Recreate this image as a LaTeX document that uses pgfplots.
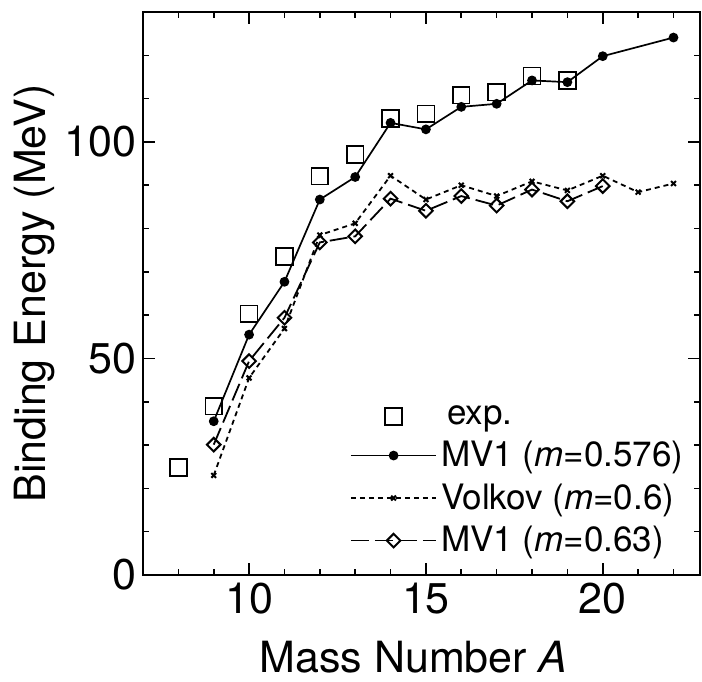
\documentclass[border=0pt]{standalone}
\usepackage{fontspec}
\setmainfont{TeX Gyre Heros}
\usepackage{pgfplots}
\pgfplotsset{compat=1.18}

\begin{document}
\begin{tikzpicture}
\begin{axis}[
    name=ax,
    scale only axis,
    width=278.5pt, height=281.5pt,
    xmin=7, xmax=22.75, ymin=0, ymax=130,
    xtick={10,15,20}, minor xtick={8,...,22},
    ytick={0,50,100}, minor ytick={10,20,...,120},
    tick align=inside,
    major tick length=6pt, minor tick length=3pt,
    axis line style={line width=1pt},
    every tick/.style={line width=0.8pt, black},
    tick label style={font=\fontsize{21.5}{26}\selectfont, inner sep=0pt},
    xticklabel style={yshift=-4pt},
    yticklabel style={xshift=-3pt},
    label style={font=\fontsize{21.5}{26}\selectfont, inner sep=0pt},
    /pgf/number format/assume math mode=true,
    xlabel={Mass Number \textit{A}},
    xlabel style={at={([xshift=-4pt,yshift=-48.5pt]axis description cs:0.5,0)}, anchor=base},
    ylabel={Binding Energy (MeV)},
    ylabel style={at={([xshift=-44pt]axis description cs:0,0.5)}, anchor=south},
    legend style={draw=none, fill=none, at={(0.978,0.028)}, anchor=south east,
        font=\fontsize{17.5}{20}\selectfont, row sep=3pt, inner sep=0pt},
    legend cell align=left,
    legend image code/.code={\draw[mark repeat=2, mark phase=2, #1]
        plot coordinates {(0cm,0cm) (0.75cm,0cm) (1.5cm,0cm)};},
]
% experiment
\addplot[only marks, mark=square, mark size=4.2pt, line width=0.8pt] coordinates {
    (8,24.8) (9,39.0) (10,60.3) (11,73.5) (12,92.1) (13,97.1) (14,105.4)
    (15,106.5) (16,110.8) (17,111.5) (18,115.2) (19,114.2)
};
\addlegendentry{\hspace{3pt}exp.}
% MV1 m=0.576
\addplot[black, line width=0.85pt, mark=*, mark size=2pt] coordinates {
    (9,35.5) (10,55.5) (11,67.7) (12,86.7) (13,91.9) (14,104.4) (15,102.9)
    (16,108.1) (17,108.8) (18,114.2) (19,113.8) (20,119.8) (22,124.1)
};
\addlegendentry{MV1 (\textit{m}=0.576)}
% Volkov m=0.6
\addplot[black, line width=0.9pt, dash pattern=on 2.5pt off 2pt, mark=x, mark size=1.7pt,
    mark options={solid, line width=1pt}] coordinates {
    (9,23.0) (10,45.5) (11,56.9) (12,78.5) (13,81.2) (14,92.2) (15,86.7)
    (16,90.0) (17,87.5) (18,90.9) (19,88.8) (20,92.2) (21,88.4) (22,90.4)
};
\addlegendentry{Volkov (\textit{m}=0.6)}
% MV1 m=0.63
\addplot[black, line width=0.9pt, dash pattern=on 9pt off 3pt, mark=square, mark size=2.4pt,
    mark options={solid, rotate=45, fill=white, line width=1pt}] coordinates {
    (9,30.1) (10,49.4) (11,59.4) (12,76.8) (13,78.2) (14,86.9) (15,84.1)
    (16,87.5) (17,85.3) (18,89.0) (19,86.3) (20,89.8)
};
\addlegendentry{MV1 (\textit{m}=0.63)}
\end{axis}
\path ([xshift=-71.5pt,yshift=-53pt]ax.south west) ([xshift=1pt,yshift=6pt]ax.north east);
\end{tikzpicture}
\end{document}
